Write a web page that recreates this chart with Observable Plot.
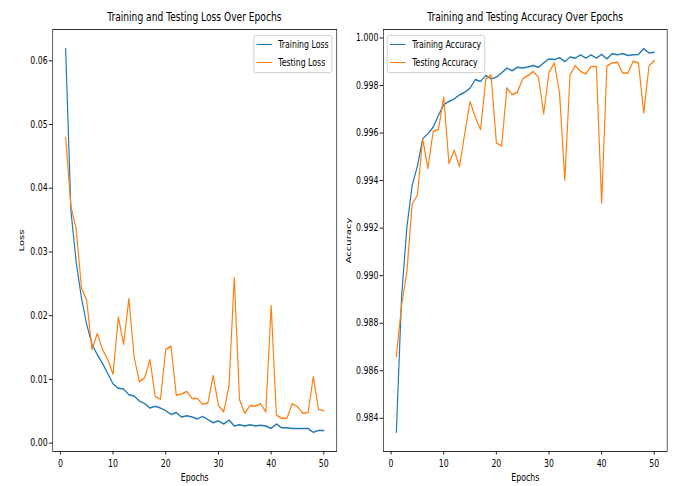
<!DOCTYPE html>
<html>
<head>
<meta charset="utf-8">
<script src="https://cdn.jsdelivr.net/npm/d3@7"></script>
<script src="https://cdn.jsdelivr.net/npm/@observablehq/plot@0.6"></script>
<style>
  html, body { margin: 0; padding: 0; background: #fff; }
  #viewport { width: 676px; height: 486px; overflow: hidden; position: relative; }
  #fig { position: absolute; left: 0; top: 0; height: 486px; transform-origin: 0 0;
         font-family: "DejaVu Sans", sans-serif; color: #000; }
  .panel { position: absolute; top: 0; height: 486px; }
  .panel svg { position: absolute; left: 0; top: 0; }
  .title { position: absolute; top: 10px; font-size: 11.7px; line-height: 14px; text-align: center; white-space: nowrap; }
  .legend { position: absolute; top: 35px; box-sizing: border-box; padding: 2px 4px 3px 3px;
            border: 1px solid #cccccc; border-radius: 3px; background: rgba(255,255,255,0.8);
            font-size: 10px; }
  .legend .row { display: flex; align-items: center; height: 13px; white-space: nowrap; }
  .legend .row + .row { margin-top: 5px; }
  .legend .sw { display: inline-block; width: 20px; height: 0; border-top: 1.5px solid; margin-right: 8px; }
</style>
</head>
<body>
<div id="viewport"><div id="fig"></div></div>
<script>
// ---- data ----
const epochs = [1,2,3,4,5,6,7,8,9,10,11,12,13,14,15,16,17,18,19,20,21,22,23,24,25,
                26,27,28,29,30,31,32,33,34,35,36,37,38,39,40,41,42,43,44,45,46,47,48,49,50];
const trainLoss = [0.0619,0.0365,0.0284,0.0228,0.0186,0.0155,0.0139,0.0125,0.0109,0.0093,
                   0.0086,0.0085,0.0076,0.0074,0.0066,0.0062,0.0055,0.0058,0.0055,0.0051,
                   0.0045,0.0048,0.0041,0.0043,0.0041,0.0038,0.0042,0.0037,0.0032,0.0035,
                   0.0030,0.0036,0.0027,0.0029,0.0027,0.0029,0.0027,0.0028,0.0027,0.0023,
                   0.0030,0.0024,0.0024,0.0023,0.0023,0.0023,0.0023,0.0017,0.0020,0.0020];
const testLoss = [0.0480,0.0372,0.0336,0.0244,0.0224,0.0147,0.0172,0.0147,0.0131,0.0108,
                  0.0198,0.0155,0.0227,0.0135,0.0096,0.0103,0.0131,0.0073,0.0069,0.0147,
                  0.0152,0.0075,0.0077,0.0081,0.0070,0.0070,0.0061,0.0063,0.0106,0.0059,
                  0.0049,0.0090,0.0260,0.0068,0.0047,0.0059,0.0058,0.0062,0.0049,0.0216,
                  0.0044,0.0039,0.0039,0.0062,0.0057,0.0047,0.0048,0.0104,0.0053,0.0051];
const trainAcc = [0.98341,0.98913,0.99203,0.99380,0.99460,0.99576,0.99597,0.99625,0.99674,0.99719,
                  0.99733,0.99744,0.99761,0.99772,0.99789,0.99825,0.99817,0.99842,0.99828,0.99835,
                  0.99853,0.99873,0.99862,0.99877,0.99874,0.99878,0.99884,0.99876,0.99895,0.99912,
                  0.99909,0.99917,0.99901,0.99920,0.99915,0.99929,0.99915,0.99929,0.99915,0.99931,
                  0.99912,0.99934,0.99929,0.99935,0.99926,0.99929,0.99931,0.99955,0.99937,0.99940];
const testAcc = [0.98659,0.98876,0.99015,0.99301,0.99339,0.99576,0.99451,0.99608,0.99615,0.99751,
                 0.99472,0.99528,0.99458,0.99600,0.99733,0.99667,0.99614,0.99828,0.99845,0.99559,
                 0.99545,0.99790,0.99761,0.99772,0.99828,0.99842,0.99859,0.99835,0.99681,0.99856,
                 0.99895,0.99770,0.99402,0.99845,0.99884,0.99859,0.99849,0.99880,0.99880,0.99305,
                 0.99882,0.99895,0.99898,0.99853,0.99853,0.99902,0.99895,0.99685,0.99882,0.99905];
const xTicks = [0,10,20,30,40,50];
const lossTicks = [0.00,0.01,0.02,0.03,0.04,0.05,0.06];
const accTicks = [0.984,0.986,0.988,0.990,0.992,0.994,0.996,0.998,1.000];
const titles = ["Training and Testing Loss Over Epochs", "Training and Testing Accuracy Over Epochs"];
const yLabels = ["Loss", "Accuracy"];
const xLabel = "Epochs";
const lossNames = ["Training Loss", "Testing Loss"];
const accNames = ["Training Accuracy", "Testing Accuracy"];
const colors = ["#1f77b4", "#ff7f0e"];

// ---- layout (matplotlib-like, horizontally condensed figure) ----
const S = 0.78;
const W = 676 / S;
const PW = W / 2;
const H = 486;

function padded(values) {
  const [lo, hi] = d3.extent(values);
  const m = (hi - lo) * 0.05;
  return [lo - m, hi + m];
}
function paddedX() {
  const [lo, hi] = d3.extent(epochs);
  const m = (hi - lo) * 0.05;
  return [lo - m, hi + m];
}

function makePanel({left, mL, mR, train, test, names, yTicks, yFormat, yLabel, title, labelOffset, legendSide}) {
  const rows = epochs.map((e, i) => ({epoch: e, train: train[i], test: test[i]}));
  const svg = Plot.plot({
    width: PW, height: H,
    marginLeft: mL, marginRight: mR, marginTop: 29, marginBottom: 35,
    style: {fontFamily: "DejaVu Sans, sans-serif", fontSize: "10px", background: "white", color: "#000", overflow: "visible"},
    x: {domain: paddedX()},
    y: {domain: padded(train.concat(test))},
    marks: [
      Plot.axisX({ticks: xTicks, tickSize: 3.5, tickPadding: 5, label: xLabel,
                  labelAnchor: "center", labelArrow: "none", labelOffset: 30}),
      Plot.axisY({ticks: yTicks, tickFormat: d3.format(yFormat), tickSize: 4.5, tickPadding: 2,
                  label: yLabel, labelAnchor: "center", labelArrow: "none", labelOffset: labelOffset}),
      Plot.lineY(rows, {x: "epoch", y: "train", stroke: colors[0], strokeWidth: 1.5}),
      Plot.lineY(rows, {x: "epoch", y: "test", stroke: colors[1], strokeWidth: 1.5}),
      Plot.frame({stroke: "#000", strokeWidth: 0.8})
    ]
  });
  const panel = document.createElement("div");
  panel.className = "panel";
  panel.style.left = left + "px";
  panel.style.width = PW + "px";
  panel.appendChild(svg);

  const t = document.createElement("div");
  t.className = "title";
  t.style.left = mL + "px";
  t.style.width = (PW - mL - mR) + "px";
  t.textContent = title;
  panel.appendChild(t);

  const lg = document.createElement("div");
  lg.className = "legend";
  if (legendSide === "right") lg.style.right = (mR + 5) + "px";
  else lg.style.left = (mL + 5) + "px";
  names.forEach((n, i) => {
    const r = document.createElement("div");
    r.className = "row";
    const sw = document.createElement("span");
    sw.className = "sw";
    sw.style.borderTopColor = colors[i];
    const tx = document.createElement("span");
    tx.textContent = n;
    r.appendChild(sw); r.appendChild(tx);
    lg.appendChild(r);
  });
  panel.appendChild(lg);
  return panel;
}

const fig = document.getElementById("fig");
fig.style.width = W + "px";
fig.style.transform = `scale(${S}, 1)`;

fig.appendChild(makePanel({
  left: 0, mL: 67.1, mR: 2.1, train: trainLoss, test: testLoss, names: lossNames,
  yTicks: lossTicks, yFormat: ".2f", yLabel: yLabels[0], title: titles[0],
  labelOffset: 43.6, legendSide: "right"
}));
fig.appendChild(makePanel({
  left: PW, mL: 58.1, mR: 11.5, train: trainAcc, test: testAcc, names: accNames,
  yTicks: accTicks, yFormat: ".3f", yLabel: yLabels[1], title: titles[1],
  labelOffset: 48.6, legendSide: "left"
}));
</script>
</body>
</html>
